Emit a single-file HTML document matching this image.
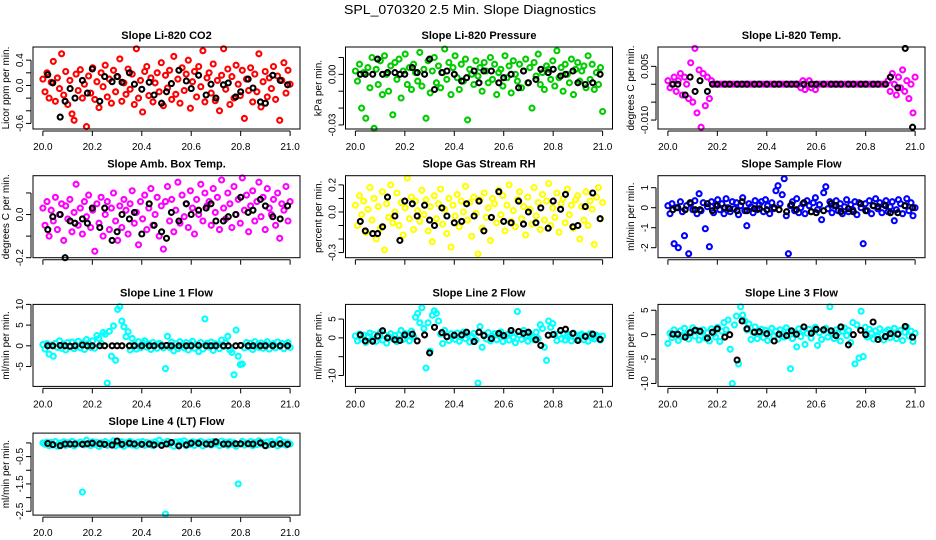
<!DOCTYPE html>
<html><head><meta charset="utf-8"><style>
html,body{margin:0;padding:0;background:#fff;}
svg{display:block;font-family:"Liberation Sans",sans-serif;}
</style></head><body>
<svg id="chart" width="936" height="540" viewBox="0 0 936 540" xmlns="http://www.w3.org/2000/svg">
<rect width="936" height="540" fill="#fff"/>
<text x="470" y="14" text-anchor="middle" font-size="13" textLength="252" lengthAdjust="spacingAndGlyphs">SPL_070320  2.5 Min. Slope Diagnostics</text>
</svg>
<script>
const titles = ["Slope Li-820 CO2","Slope Li-820 Pressure","Slope Li-820 Temp.","Slope Amb. Box Temp.","Slope Gas Stream RH","Slope Sample Flow","Slope Line 1 Flow","Slope Line 2 Flow","Slope Line 3 Flow","Slope Line 4 (LT) Flow"];
const yTitles = ["Licor ppm per min.","kPa per min.","degrees C per min.","degrees C per min.","percent per min.","ml/min per min.","ml/min per min.","ml/min per min.","ml/min per min.","ml/min per min."];
const colors = ["#ff0000","#00cc00","#ff00ff","#ff00ff","#ffff00","#0000ff","#00ffff","#00ffff","#00ffff","#00ffff"];
const yLims = [[-0.688,0.608],[-0.0324,0.0162],[-0.0125,0.0104],[-0.2,0.18],[-0.338,0.268],[-2.5,1.6],[-9.8,10],[-12.9,8.9],[-10.6,6.2],[-2.64,0.36]];
const yTicks = [[-0.6,-0.4,-0.2,0,0.2,0.4],[-0.03,-0.02,-0.01,0,0.01],[-0.01,-0.005,0,0.005],[-0.2,-0.1,0,0.1],[-0.3,-0.2,-0.1,0,0.1,0.2],[-2,-1,0,1],[-5,0,5,10],[-10,-5,0,5],[-10,-5,0,5],[-2.5,-2,-1.5,-1,-0.5,0]];
const yTickLabels = [["-0.6","","","0.0","","0.4"],["-0.03","","","0.00",""],["-0.010","","","0.005"],["-0.2","","0.0",""],["-0.3","","","0.0","","0.2"],["-2","-1","0","1"],["-5","0","5","10"],["-10","","0","5"],["-10","-5","0","5"],["-2.5","","-1.5","","-0.5",""]];
const xTicks = [20.0,20.2,20.4,20.6,20.8,21.0];
const xTickLabels = ["20.0","20.2","20.4","20.6","20.8","21.0"];
const showXLabels = [true,true,true,false,false,false,true,true,true,true];
const nObs = 120;
const blackTimes = [20.02,20.04,20.07,20.09,20.11,20.13,20.16,20.18,20.2,20.23,20.25,20.28,20.3,20.32,20.35,20.37,20.4,20.43,20.45,20.48,20.5,20.52,20.55,20.58,20.6,20.63,20.66,20.68,20.7,20.73,20.75,20.78,20.8,20.83,20.85,20.88,20.9,20.93,20.96,20.99];

const co2 = [0.1,-0.1,0.2,-0.2,0.05,0.38,-0.25,0.12,-0.05,0.5,-0.15,0.22,-0.3,0.08,-0.45,-0.55,0.18,-0.08,0.25,-0.2,0.02,-0.65,0.15,-0.12,0.28,-0.22,0.06,-0.35,0.2,-0.02,0.32,-0.18,0.1,-0.28,0.24,-0.1,0.14,0.42,-0.25,0.04,-0.14,0.26,-0.06,0.18,-0.3,0.58,-0.2,0.08,-0.42,0.22,0.3,-0.16,0.12,-0.26,0.04,0.2,-0.1,0.36,-0.32,0.16,-0.04,0.24,-0.22,0.46,-0.14,0.1,-0.28,0.28,-0.08,0.18,0.4,-0.36,0.06,0.22,-0.18,0.3,-0.02,0.55,-0.26,0.12,0.2,-0.12,0.34,-0.24,0.08,-0.4,0.16,0.58,-0.06,0.26,-0.3,0.14,-0.2,0.32,0.02,-0.16,0.24,-0.52,0.1,-0.08,0.28,-0.26,0.18,-0.1,0.5,-0.34,0.06,0.22,-0.18,0.12,-0.05,0.3,-0.22,0.15,-0.55,0.08,0.36,-0.12,0.24,0.02];
const co2Black = [0.17,0.04,-0.5,-0.25,-0.05,-0.2,0.08,-0.12,0.26,-0.25,0.14,0.06,0.14,0.05,0.2,0.02,-0.06,0.05,-0.15,-0.28,-0.1,0.03,0.24,0.07,-0.05,0.16,-0.15,0.02,-0.2,0.01,0.04,-0.18,-0.1,0.1,-0.04,-0.26,-0.28,0.16,0.08,0.01];
const pres = [0.002,-0.004,0.006,-0.02,0.001,-0.026,0.004,-0.008,0.01,-0.032,0.003,-0.006,0.008,-0.012,0.011,0.0,-0.01,0.005,-0.024,0.007,-0.003,0.009,-0.014,0.002,0.012,-0.006,0.004,-0.009,0.006,0.001,-0.004,0.013,-0.007,0.003,-0.026,0.008,-0.011,0.002,0.01,-0.005,0.005,-0.008,0.001,0.015,-0.003,0.007,-0.012,0.004,0.011,-0.002,-0.009,0.006,-0.004,0.009,-0.027,0.003,0.0,-0.006,0.008,-0.001,0.004,-0.01,0.007,0.002,-0.005,0.01,-0.003,0.006,-0.012,0.001,0.003,-0.007,0.011,-0.002,0.005,-0.011,0.008,0.0,-0.004,0.006,-0.008,0.002,0.009,-0.005,0.004,-0.02,0.007,-0.001,0.012,-0.006,0.001,-0.009,0.005,0.003,-0.003,0.008,-0.007,0.014,-0.002,0.004,-0.01,0.006,0.0,-0.005,0.009,-0.012,0.003,0.007,-0.004,0.002,0.005,-0.008,0.011,-0.003,0.006,-0.009,0.001,-0.006,0.004,-0.022];
const presBlack = [0.0,0.0,0.0,0.009,0.0,0.001,0.001,0.0,0.0,0.004,0.001,0.0,0.009,-0.009,0.001,0.002,0.0,-0.004,-0.002,0.002,-0.005,0.002,0.002,-0.005,-0.002,0.0,-0.008,0.002,-0.005,-0.003,0.003,0.001,0.003,-0.001,0.0,0.002,-0.005,-0.006,-0.005,0.0];
const temp = [0.001,-0.001,0.0,0.002,-0.002,0.001,0.003,-0.003,0.002,0.0,-0.004,0.006,-0.005,0.01,-0.008,0.004,-0.012,0.003,-0.006,0.002,-0.004,0.001,0,0,0,0,0,0,0,0,0,0,0,0,0,0,0,0,0,0,0,0,0,0,0,0,0,0,0,0,0,0,0,0,0,0,0,0,0,0,0,0,0,0,-0.001,0.001,-0.0015,0.0,0.001,-0.001,0.0,-0.0015,0,0,0,0,0,0,0,0,0,0,0,0,0,0,0,0,0,0,0,0,0,0,0,0,0,0,0,0,0,0,0,0,0,0,0.001,-0.002,0.003,0.0,-0.003,0.002,-0.001,0.004,-0.002,0.001,-0.004,0.0,-0.008,0.002];
const tempBlack = [0,0,-0.003,0.002,-0.002,0.001,-0.002,0,0,0,0,0,0,0,0,0,0,0,0,0,0,0,0,0,0,0,0,0,0,0,0,0,0,0,0,0,0.002,-0.001,0.01,-0.012];
const amb = [0.03,-0.05,0.06,-0.1,0.02,-0.03,0.08,-0.07,0.0,0.05,-0.12,0.04,-0.02,0.07,-0.08,0.01,0.14,-0.05,0.03,-0.09,0.06,-0.01,0.09,-0.06,0.02,-0.17,0.05,-0.04,0.08,-0.1,0.0,0.06,-0.07,0.03,0.1,-0.03,-0.12,0.04,-0.06,0.07,0.02,-0.09,0.05,0.11,-0.04,0.01,-0.14,0.06,-0.02,0.09,-0.07,0.03,0.12,-0.05,0.0,0.08,-0.1,0.04,-0.16,0.06,0.13,-0.03,0.07,-0.08,0.02,0.15,-0.04,0.09,-0.01,0.05,-0.06,0.11,0.03,-0.09,0.07,0.0,0.14,-0.03,0.1,0.04,0.06,-0.05,0.12,0.01,0.08,-0.07,0.16,0.03,-0.02,0.1,0.05,-0.06,0.13,0.0,0.07,-0.04,0.17,0.02,0.09,-0.08,0.04,0.11,-0.03,0.06,0.15,-0.01,0.08,-0.07,0.12,0.03,0.0,0.07,-0.05,0.1,-0.11,0.05,0.02,0.13,-0.03,0.06];
const ambBlack = [-0.07,-0.01,0.0,-0.2,-0.03,-0.04,-0.02,-0.04,0.03,-0.06,0.03,-0.12,-0.08,0.0,-0.02,0.01,-0.09,0.05,-0.05,-0.08,-0.11,0.01,-0.03,0.05,0.0,0.02,0.03,0.05,-0.03,-0.03,-0.01,0.0,0.08,0.01,0.02,0.07,0.04,-0.01,-0.02,0.04];
const rh = [0.05,-0.1,0.12,-0.02,0.08,-0.15,0.02,0.18,-0.06,0.1,-0.2,0.04,-0.12,0.15,-0.28,0.06,-0.04,0.2,-0.08,0.0,0.14,-0.1,0.07,-0.17,0.03,0.25,-0.05,0.11,-0.13,0.08,0.01,-0.07,0.16,-0.02,0.09,-0.14,0.04,-0.22,0.12,-0.05,0.06,0.17,-0.09,0.02,-0.16,0.1,-0.26,0.05,-0.03,0.13,-0.11,0.08,0.0,0.19,-0.06,0.07,-0.18,0.11,-0.01,-0.31,0.09,-0.12,0.14,-0.04,0.03,-0.21,0.1,0.06,-0.08,0.16,-0.02,0.12,-0.14,0.05,0.2,-0.07,0.01,-0.11,0.09,0.15,-0.05,0.04,-0.17,0.11,0.02,-0.09,0.18,-0.03,0.07,-0.13,0.13,-0.06,0.08,0.21,-0.1,0.03,-0.04,0.14,-0.15,0.06,0.1,-0.08,0.17,-0.02,0.05,-0.12,0.09,0.12,-0.2,0.04,-0.06,0.15,-0.1,0.08,0.02,-0.24,0.11,0.18,-0.05,0.07];
const rhBlack = [-0.07,-0.14,-0.16,-0.16,-0.11,0.11,-0.03,-0.21,0.08,0.06,-0.03,0.05,-0.06,-0.1,0.03,-0.03,-0.08,-0.07,0.06,-0.03,0.08,-0.14,-0.04,0.15,-0.07,-0.08,0.08,-0.09,0.0,-0.08,0.03,-0.12,0.08,0.02,0.13,-0.11,-0.1,0.04,0.14,-0.05];
const sample = [0.1,-0.3,0.2,-1.8,0.0,-2.0,0.3,-0.2,-1.4,0.1,-2.3,0.2,-0.1,0.35,-0.3,0.7,-0.15,0.25,-1.05,0.05,-1.95,0.3,-0.25,0.15,0.4,-0.1,0.2,-0.3,0.45,0.0,-0.2,0.3,-0.05,0.25,-0.35,0.1,0.5,-0.15,-0.9,0.2,0.05,-0.25,0.35,-0.1,0.15,0.3,-0.2,0.4,0.1,-0.3,0.25,-0.05,0.85,1.1,0.2,0.65,1.45,-0.4,-2.3,0.1,0.3,-0.15,0.45,-0.25,0.0,0.2,-0.3,0.35,0.1,-0.2,0.25,0.5,-0.1,0.15,-0.6,0.75,1.05,-0.05,0.3,-0.25,0.1,0.35,-0.15,0.2,-0.3,0.05,0.4,-0.2,0.15,-0.1,0.3,-0.35,0.25,0.0,-1.8,0.2,-0.15,0.35,-0.3,0.1,0.45,-0.05,0.25,-0.25,0.15,0.35,-0.2,0.05,0.3,-0.65,-0.1,0.4,0.2,-0.3,0.1,0.45,-0.15,0.25,-0.4,0.0];
const sampleBlack = [-0.1,0.0,-0.1,0.25,-0.1,-0.1,0.2,-0.15,0.1,0.0,-0.05,-0.15,0.3,-0.15,-0.05,-0.05,-0.1,0.0,-0.1,-0.2,0.15,-0.1,0.25,-0.2,-0.25,-0.15,0.2,0.1,-0.2,-0.05,-0.2,0.2,-0.15,0.1,0.05,0.1,-0.25,-0.25,0.1,0.0];
const line1 = [0.3,-0.8,0.5,-2.0,0.2,-2.5,0.6,-0.4,1.2,-0.6,0.4,-1.0,0.8,-0.3,0.9,-0.7,0.2,1.1,-0.5,0.7,-0.9,1.5,0.6,-0.4,1.2,-0.6,2.5,1.8,0.6,3.2,2.8,-9.0,3.5,-2.5,4.8,-3.5,8.8,9.5,6.0,4.6,2.2,3.4,-1.0,1.8,0.4,-0.8,1.0,-0.5,0.7,1.2,-0.3,0.5,-0.9,0.8,0.1,-0.6,0.6,0.3,-0.5,-5.5,2.3,-0.4,0.9,-1.2,0.5,-0.7,1.0,0.2,-0.5,0.8,-1.0,0.4,1.1,-0.6,0.3,-1.4,0.8,-0.8,6.5,0.6,-0.3,0.9,-1.1,0.5,0.2,-0.7,1.4,-0.2,0.7,2.3,-1.0,-1.6,-7.0,3.8,-2.5,-4.5,-4.4,-0.5,0.8,-0.3,0.6,-0.9,1.0,0.2,-0.4,0.7,-0.6,0.4,1.0,-0.8,0.3,0.5,-0.5,0.9,-0.2,0.6,-0.7,0.4,0.8,-0.4];
const line1Black = [0,0,0.1,0,-0.1,0,0.2,0,0,0,0,0,0,0,0,0,0,0,0,0,0.1,0,0,0,0,0.1,0,0,0,0,0,0,0.1,0,0,0,0,0,0,0];
const line2 = [0.5,-0.8,1.0,-0.3,0.7,-1.2,0.4,1.3,-0.5,0.9,-0.9,0.2,1.5,-0.6,0.8,-1.4,0.3,1.1,-0.2,0.6,-1.0,0.9,2.0,-0.4,1.2,0.5,-0.8,1.8,0.4,5.5,6.5,4.0,8.0,2.5,-8.0,4.0,-3.5,6.0,7.2,6.5,4.5,1.0,-1.5,2.0,0.3,-0.7,1.1,0.5,-0.4,1.3,-0.9,0.6,1.5,-0.2,0.8,-1.1,0.4,1.2,-0.6,-12.0,3.0,-2.5,0.9,-0.3,1.4,-0.8,0.5,1.1,-0.5,0.7,1.6,-1.0,0.3,0.9,-0.6,1.2,0.2,-1.3,7.0,0.8,-0.4,2.0,0.6,-0.9,1.0,0.3,-0.5,1.5,-0.2,3.5,2.5,-2.5,-6.0,4.5,2.8,3.8,1.0,-0.7,0.8,-0.3,1.2,-0.6,0.5,0.9,-0.8,1.3,0.1,-0.4,0.8,1.0,-0.5,0.6,-0.9,1.1,0.2,-0.3,0.7,0.4,-0.6,0.5];
const line2Black = [0.8,-0.8,-0.9,0.5,1.9,0.0,-0.5,-0.7,0.8,1.0,-0.8,0.8,-4.0,2.8,1.4,0.3,0.7,0.8,1.5,-1.0,1.5,0.6,-0.2,1.2,0.6,2.0,1.7,1.2,1.5,-0.5,-2.0,0.7,0.9,2.0,2.3,1.2,-0.7,0.4,1.0,-0.4];
const line3 = [-1.8,0.3,-0.6,1.0,0.2,-1.2,0.8,-0.4,1.3,0.0,-0.9,0.6,1.4,-0.3,0.9,-1.1,0.5,1.0,-0.7,0.4,-1.3,1.2,0.2,-0.5,1.5,-1.4,0.7,2.5,1.0,3.0,-3.0,-10.0,2.0,3.8,-6.0,5.7,4.0,2.8,1.0,2.2,-1.0,0.5,1.6,-0.8,0.3,1.1,-0.6,0.9,-1.2,0.4,1.3,-0.3,0.7,-0.9,1.0,0.2,-0.5,1.4,0.6,-7.0,-0.8,0.5,-2.5,1.2,-0.4,0.9,-2.0,0.3,1.1,-0.7,0.6,1.5,-2.2,0.4,-1.0,0.8,1.3,-0.5,5.7,0.2,-0.8,1.0,0.4,-1.3,0.7,1.4,-0.2,0.9,-1.6,2.5,-6.0,2.0,-4.8,4.8,-4.5,1.5,-0.5,1.1,0.3,-0.9,0.8,-0.4,1.2,0.0,-1.1,0.6,1.0,-0.6,0.4,1.3,-0.8,0.2,0.9,-1.2,0.5,1.6,-0.3,0.7,-1.4,0.3];
const line3Black = [0.1,0.1,-0.5,0.4,0.9,0.7,-0.7,0.5,1.2,-0.5,0.0,-5.2,2.8,1.2,0.5,0.6,0.2,-1.3,0.1,-0.2,0.8,0.1,1.6,0.3,1.1,1.0,0.8,-0.2,1.6,-2.1,0.0,0.9,0.0,2.6,-1.0,-0.4,0.2,0.1,1.7,-0.5];
const line4 = [0.0,-0.05,0.03,-0.1,0.02,-0.08,0.05,-0.12,0.0,-0.03,0.04,-0.09,0.01,-0.06,0.06,-0.11,0.0,-0.04,0.03,-1.8,-0.07,0.1,-0.02,-0.1,0.04,-0.05,0.02,-0.13,0.01,-0.06,0.05,-0.09,0.0,-0.03,0.08,-0.1,0.02,-0.07,0.04,-0.12,0.01,-0.05,0.06,-0.08,0.0,-0.11,0.03,-0.04,0.05,-0.09,0.02,-0.06,0.0,-0.1,0.04,-0.03,0.1,-0.08,0.01,-2.6,0.06,-0.05,0.02,-0.12,0.03,-0.07,0.05,-0.02,0.08,-0.1,0.0,-0.06,0.04,-0.09,0.02,-0.04,0.06,-0.11,0.01,-0.05,0.03,-0.08,0.05,-0.03,0.0,-0.1,0.07,-0.06,0.02,-0.09,0.04,-0.05,0.01,-0.12,-1.5,-0.04,0.06,-0.08,0.0,-0.03,0.05,-0.1,0.02,-0.06,0.08,-0.04,0.01,-0.09,0.03,-0.07,0.06,-0.02,0.0,-0.11,0.12,-0.05,0.03,-0.08,0.01,-0.04];
const line4Black = [-0.02,-0.06,-0.1,-0.04,-0.04,-0.04,-0.05,-0.03,-0.01,-0.03,-0.05,-0.08,0.07,-0.05,-0.01,-0.04,-0.05,-0.04,-0.07,-0.09,-0.04,0.02,-0.11,-0.07,-0.01,-0.01,-0.04,-0.05,0.04,-0.04,-0.04,-0.03,-0.03,-0.03,-0.04,0.0,-0.1,-0.05,-0.03,-0.05];

const colorSeries = [co2,pres,temp,amb,rh,sample,line1,line2,line3,line4];
const blackSeries = [co2Black,presBlack,tempBlack,ambBlack,rhBlack,sampleBlack,line1Black,line2Black,line3Black,line4Black];

const NS = "http://www.w3.org/2000/svg";
const svg = document.getElementById('chart');
function mk(tag, attrs, parent) {
  const e = document.createElementNS(NS, tag);
  for (const k in attrs) e.setAttribute(k, attrs[k]);
  (parent || svg).appendChild(e);
  return e;
}
const PANEL_W = 267, PANEL_H = 82;
for (let p = 0; p < titles.length; p++) {
  const col = p % 3, row = Math.floor(p / 3);
  const L = 33 + col * 312.5, T = 47 + row * 128.7, R = L + PANEL_W, B = T + PANEL_H;
  const g = mk('g', {});
  
  
  const xlo = 19.96, xhi = 21.04;
  const xs = v => L + (v - xlo) / (xhi - xlo) * PANEL_W;
  const [ylo, yhi] = yLims[p];
  const ys = v => B - (v - ylo) / (yhi - ylo) * PANEL_H;

  const t = mk('text', {x: (L + R) / 2, y: T - 8, 'text-anchor': 'middle', 'font-size': 11, 'font-weight': 'bold'}, g);
  
  
  t.textContent = titles[p];

  const yt = mk('text', {x: 0, y: 0, 'text-anchor': 'middle', 'font-size': 10, transform: `translate(${L - 24},${(T + B) / 2}) rotate(-90)`}, g);
  
  
  yt.textContent = yTitles[p];

  const pts = mk('g', {fill: 'none', 'stroke-width': 2.1}, g);
  
  
  const series = colorSeries[p];
  for (let i = 0; i < series.length; i++) {
    const tm = 20 + i / (nObs - 1);
    const c = mk('circle', {cx: xs(tm).toFixed(1), cy: ys(series[i]).toFixed(1), r: 2.5, stroke: colors[p]}, pts);
    
    
  }
  const bs = blackSeries[p];
  for (let i = 0; i < bs.length; i++) {
    const c = mk('circle', {cx: xs(blackTimes[i]).toFixed(1), cy: ys(bs[i]).toFixed(1), r: 2.5, stroke: '#000'}, pts);
    
    
  }

  const box = mk('rect', {x: L, y: T, width: PANEL_W, height: PANEL_H, fill: 'none', stroke: '#000', 'stroke-width': 1}, g);
  
  

  const xa = mk('g', {}, g);
  
  
  mk('line', {x1: xs(xTicks[0]), x2: xs(xTicks[xTicks.length - 1]), y1: B + 2, y2: B + 2, stroke: '#000'}, xa);
  xTicks.forEach((v, i) => {
    mk('line', {x1: xs(v), x2: xs(v), y1: B + 2, y2: B + 7, stroke: '#000'}, xa);
    if (showXLabels[p]) {
      const lt = mk('text', {x: xs(v), y: B + 21, 'text-anchor': 'middle', 'font-size': 10}, xa);
      
      
      lt.textContent = xTickLabels[i];
    }
  });
  const ya = mk('g', {}, g);
  
  
  const tk = yTicks[p];
  mk('line', {x1: L - 2, x2: L - 2, y1: ys(tk[0]), y2: ys(tk[tk.length - 1]), stroke: '#000'}, ya);
  tk.forEach((v, i) => {
    mk('line', {x1: L - 7, x2: L - 2, y1: ys(v), y2: ys(v), stroke: '#000'}, ya);
    if (yTickLabels[p][i]) {
      const lt = mk('text', {x: 0, y: 0, 'text-anchor': 'middle', 'font-size': 10, transform: `translate(${L - 10},${ys(v)}) rotate(-90)`}, ya);
      
      
      lt.textContent = yTickLabels[p][i];
    }
  });
}
</script>
</body></html>
